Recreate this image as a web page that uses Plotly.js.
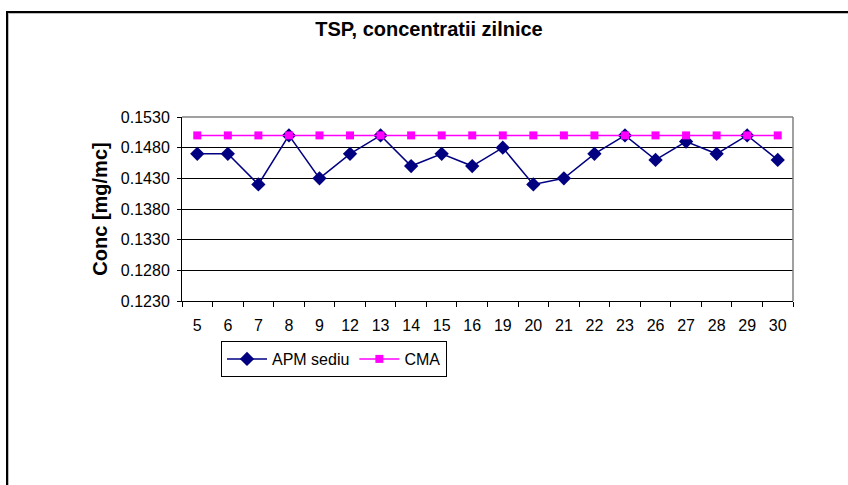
<!DOCTYPE html>
<html>
<head>
<meta charset="utf-8">
<script src="https://cdn.plot.ly/plotly-3.0.1.min.js"></script>
<style>
html,body{margin:0;padding:0;background:#fff;overflow:hidden;}
#chart{width:848px;height:485px;position:absolute;left:0;top:0;}
#frame{position:absolute;left:6px;top:11px;width:900px;height:600px;border-left:2px solid #000;border-top:2px solid #000;box-shadow:1px 1px 0 #bbb inset;pointer-events:none;}
</style>
</head>
<body>
<div id="chart"></div>
<div id="frame"></div>
<script>
const days = ["5","6","7","8","9","12","13","14","15","16","19","20","21","22","23","26","27","28","29","30"];
const apmSediu = [0.147,0.147,0.142,0.150,0.143,0.147,0.150,0.145,0.147,0.145,0.148,0.142,0.143,0.147,0.150,0.146,0.149,0.147,0.150,0.146];
const cma = [0.150,0.150,0.150,0.150,0.150,0.150,0.150,0.150,0.150,0.150,0.150,0.150,0.150,0.150,0.150,0.150,0.150,0.150,0.150,0.150];
const yTicks = [0.1230,0.1280,0.1330,0.1380,0.1430,0.1480,0.1530];

const font = "Liberation Sans, Arial, sans-serif";
const traces = [
  {x: days, y: apmSediu, name: "APM sediu", type: "scatter", mode: "lines+markers",
   line: {color: "#000080", width: 1.5}, marker: {symbol: "diamond", size: 11, color: "#000080"}},
  {x: days, y: cma, name: "CMA", type: "scatter", mode: "lines+markers",
   line: {color: "#FF00FF", width: 1.5}, marker: {symbol: "square", size: 8, color: "#FF00FF"}}
];
const layout = {
  width: 848, height: 485,
  margin: {l: 182, r: 55, t: 117, b: 184},
  paper_bgcolor: "#fff", plot_bgcolor: "#fff",
  font: {family: font, size: 16, color: "#000"},
  title: {text: "<b>TSP, concentratii zilnice</b>", font: {family: font, size: 20, color: "#000"},
          x: 429/848, xanchor: "center", y: 1 - 29/485, yanchor: "middle"},
  xaxis: {type: "category", range: [-0.5, 19.5], tickson: "boundaries", ticks: "outside", ticklen: 5,
          tickcolor: "#000", showline: true, linecolor: "#000", linewidth: 1, showgrid: false,
          ticklabelstandoff: 10,
          tickfont: {family: font, size: 16, color: "#000"}, fixedrange: true},
  yaxis: {range: [0.1230, 0.1530], tickvals: yTicks, ticktext: yTicks.map(v => v.toFixed(4)),
          ticks: "outside", ticklen: 4, tickcolor: "#000", showline: true, linecolor: "#000", linewidth: 1,
          showgrid: true, gridcolor: "#000", gridwidth: 1, zeroline: false, ticklabelstandoff: 4,
          tickfont: {family: font, size: 16, color: "#000"},
          title: {text: "<b>Conc [mg/mc]</b>", font: {family: font, size: 20, color: "#000"}, standoff: 7}},
  shapes: [
    {type: "line", xref: "paper", yref: "paper", x0: 0, x1: 1, y0: 1, y1: 1, line: {color: "#808080", width: 1.5}, layer: "above"},
    {type: "line", xref: "paper", yref: "paper", x0: 1, x1: 1, y0: 0, y1: 1, line: {color: "#808080", width: 1.5}, layer: "above"}
  ],
  legend: {orientation: "h", x: (221-182)/611, xanchor: "left", y: (301-341)/184, yanchor: "top",
           bordercolor: "#000", borderwidth: 1, bgcolor: "#fff",
           font: {family: font, size: 16, color: "#000"}, itemwidth: 40, tracegroupgap: 0},
  showlegend: true
};
Plotly.newPlot("chart", traces, layout, {displayModeBar: false, staticPlot: true});
</script>
</body>
</html>
